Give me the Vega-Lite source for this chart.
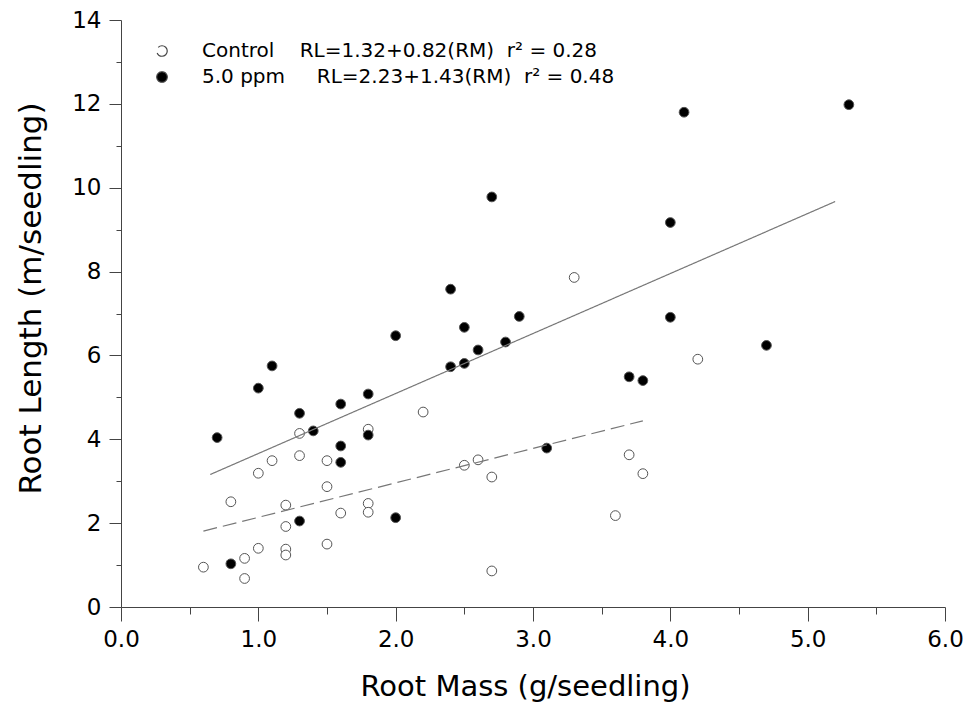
{
  "$schema": "https://vega.github.io/schema/vega-lite/v6.json",
  "width": 824,
  "height": 587,
  "autosize": {"type": "none"},
  "padding": {"left": 121, "top": 20, "right": 18, "bottom": 102},
  "background": "white",
  "config": {"view": {"stroke": null}, "font": "DejaVu Sans"},
  "datasets": {
    "points": [
      {"group": "Control", "x": 0.6, "y": 0.95},
      {"group": "Control", "x": 0.8, "y": 2.51},
      {"group": "Control", "x": 0.9, "y": 0.68},
      {"group": "Control", "x": 0.9, "y": 1.16},
      {"group": "Control", "x": 1.0, "y": 3.19},
      {"group": "Control", "x": 1.0, "y": 1.40},
      {"group": "Control", "x": 1.1, "y": 3.49},
      {"group": "Control", "x": 1.2, "y": 2.43},
      {"group": "Control", "x": 1.2, "y": 1.92},
      {"group": "Control", "x": 1.2, "y": 1.38},
      {"group": "Control", "x": 1.2, "y": 1.24},
      {"group": "Control", "x": 1.3, "y": 4.14},
      {"group": "Control", "x": 1.3, "y": 3.61},
      {"group": "Control", "x": 1.5, "y": 3.49},
      {"group": "Control", "x": 1.5, "y": 2.87},
      {"group": "Control", "x": 1.5, "y": 1.50},
      {"group": "Control", "x": 1.6, "y": 2.24},
      {"group": "Control", "x": 1.8, "y": 4.24},
      {"group": "Control", "x": 1.8, "y": 2.47},
      {"group": "Control", "x": 1.8, "y": 2.26},
      {"group": "Control", "x": 2.2, "y": 4.65},
      {"group": "Control", "x": 2.5, "y": 3.38},
      {"group": "Control", "x": 2.6, "y": 3.51},
      {"group": "Control", "x": 2.7, "y": 3.10},
      {"group": "Control", "x": 2.7, "y": 0.86},
      {"group": "Control", "x": 3.3, "y": 7.86},
      {"group": "Control", "x": 3.6, "y": 2.18},
      {"group": "Control", "x": 3.7, "y": 3.63},
      {"group": "Control", "x": 3.8, "y": 3.18},
      {"group": "Control", "x": 4.2, "y": 5.91},
      {"group": "5.0 ppm", "x": 0.7, "y": 4.04},
      {"group": "5.0 ppm", "x": 0.8, "y": 1.03},
      {"group": "5.0 ppm", "x": 1.0, "y": 5.22},
      {"group": "5.0 ppm", "x": 1.1, "y": 5.75},
      {"group": "5.0 ppm", "x": 1.3, "y": 4.62},
      {"group": "5.0 ppm", "x": 1.3, "y": 2.05},
      {"group": "5.0 ppm", "x": 1.4, "y": 4.20},
      {"group": "5.0 ppm", "x": 1.6, "y": 4.84},
      {"group": "5.0 ppm", "x": 1.6, "y": 3.84},
      {"group": "5.0 ppm", "x": 1.6, "y": 3.45},
      {"group": "5.0 ppm", "x": 1.8, "y": 5.08},
      {"group": "5.0 ppm", "x": 1.8, "y": 4.10},
      {"group": "5.0 ppm", "x": 2.0, "y": 6.47},
      {"group": "5.0 ppm", "x": 2.0, "y": 2.13},
      {"group": "5.0 ppm", "x": 2.4, "y": 7.58},
      {"group": "5.0 ppm", "x": 2.4, "y": 5.73},
      {"group": "5.0 ppm", "x": 2.5, "y": 6.67},
      {"group": "5.0 ppm", "x": 2.5, "y": 5.81},
      {"group": "5.0 ppm", "x": 2.6, "y": 6.13},
      {"group": "5.0 ppm", "x": 2.7, "y": 9.78},
      {"group": "5.0 ppm", "x": 2.8, "y": 6.32},
      {"group": "5.0 ppm", "x": 2.9, "y": 6.93},
      {"group": "5.0 ppm", "x": 3.1, "y": 3.79},
      {"group": "5.0 ppm", "x": 3.7, "y": 5.49},
      {"group": "5.0 ppm", "x": 3.8, "y": 5.40},
      {"group": "5.0 ppm", "x": 4.0, "y": 9.17},
      {"group": "5.0 ppm", "x": 4.0, "y": 6.91},
      {"group": "5.0 ppm", "x": 4.1, "y": 11.80},
      {"group": "5.0 ppm", "x": 4.7, "y": 6.24},
      {"group": "5.0 ppm", "x": 5.3, "y": 11.98}
    ],
    "lines": [
      {"group": "Control", "x": 0.6, "y": 1.81},
      {"group": "Control", "x": 3.8, "y": 4.44},
      {"group": "5.0 ppm", "x": 0.65, "y": 3.16},
      {"group": "5.0 ppm", "x": 5.2, "y": 9.67}
    ]
  },
  "layer": [
    {
      "data": {"name": "points"},
      "mark": {"type": "point", "shape": "circle", "filled": true, "size": 95, "stroke": "#555", "strokeWidth": 1, "opacity": 1},
      "encoding": {
        "x": {
          "field": "x",
          "type": "quantitative",
          "scale": {"domain": [0, 6], "nice": false, "zero": false},
          "axis": {
            "values": [0, 0.5, 1, 1.5, 2, 2.5, 3, 3.5, 4, 4.5, 5, 5.5, 6],
            "format": ".1f",
            "labelExpr": "datum.value % 1 === 0 ? datum.label : ''",
            "grid": false,
            "domainColor": "#444",
            "tickColor": "#444",
            "tickSize": {"condition": {"test": "datum.value % 1 === 0", "value": 14}, "value": 7},
            "labelPadding": 7,
            "labelFont": "DejaVu Sans",
            "labelFontSize": 23,
            "labelColor": "black",
            "labelFlush": false,
            "labelOverlap": false,
            "title": "Root Mass (g/seedling)",
            "titleFont": "DejaVu Sans",
            "titleFontSize": 29,
            "titleFontWeight": "normal",
            "titleColor": "black",
            "titleX": 404,
            "titleY": 88,
            "titleAlign": "center",
            "titleBaseline": "alphabetic"
          }
        },
        "y": {
          "field": "y",
          "type": "quantitative",
          "scale": {"domain": [0, 14], "nice": false, "zero": false},
          "axis": {
            "values": [0, 1, 2, 3, 4, 5, 6, 7, 8, 9, 10, 11, 12, 13, 14],
            "labelExpr": "datum.value % 2 === 0 ? datum.label : ''",
            "grid": false,
            "domainColor": "#444",
            "tickColor": "#444",
            "tickSize": {"condition": {"test": "datum.value % 2 === 0", "value": 12}, "value": 5},
            "labelPadding": 8,
            "labelFont": "DejaVu Sans",
            "labelFontSize": 23,
            "labelColor": "black",
            "labelFlush": false,
            "labelOverlap": false,
            "title": "Root Length (m/seedling)",
            "titleFont": "DejaVu Sans",
            "titleFontSize": 31,
            "titleFontWeight": "normal",
            "titleColor": "black",
            "titleAngle": -90,
            "titleX": -81,
            "titleY": 278,
            "titleAlign": "center",
            "titleBaseline": "alphabetic"
          }
        },
        "fill": {
          "field": "group",
          "type": "nominal",
          "scale": {"domain": ["Control", "5.0 ppm"], "range": ["white", "black"]},
          "legend": {
            "orient": "top-left",
            "offset": 21,
            "symbolOffset": 10,
            "title": null,
            "padding": 0,
            "labelFont": "DejaVu Sans",
            "labelFontSize": 20,
            "labelColor": "black",
            "labelLimit": 700,
            "labelOffset": 30,
            "rowPadding": 6,
            "symbolSize": 110,
            "symbolStrokeColor": "#444",
            "symbolStrokeWidth": 1.2,
            "labelExpr": "datum.label === 'Control' ? 'Control\u00a0\u00a0\u00a0\u00a0RL=1.32+0.82(RM)\u00a0\u00a0r\u00b2 = 0.28' : '5.0 ppm\u00a0\u00a0\u00a0\u00a0\u00a0RL=2.23+1.43(RM)\u00a0\u00a0r\u00b2 = 0.48'"
          }
        }
      }
    },
    {
      "data": {"name": "lines"},
      "mark": {"type": "line", "color": "#777", "strokeWidth": 1.2},
      "encoding": {
        "x": {"field": "x", "type": "quantitative"},
        "y": {"field": "y", "type": "quantitative"},
        "strokeDash": {
          "field": "group",
          "type": "nominal",
          "scale": {"domain": ["Control", "5.0 ppm"], "range": [[14, 6], [1, 0]]},
          "legend": null
        }
      }
    }
  ]
}
